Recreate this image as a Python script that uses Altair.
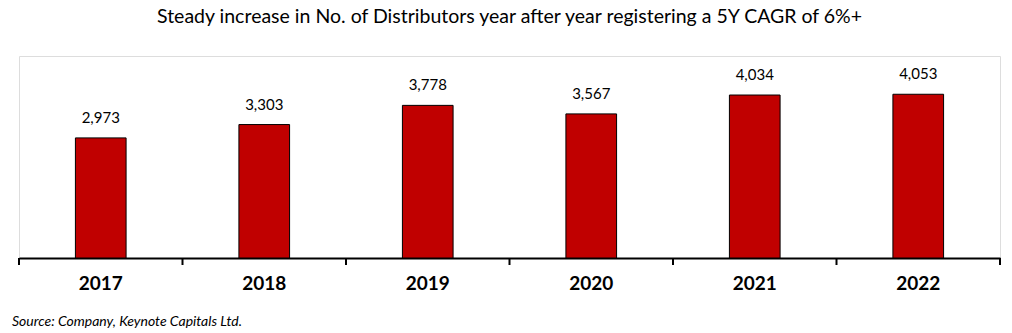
import altair as alt
import pandas as pd

years = ["2017", "2018", "2019", "2020", "2021", "2022"]
distributors = [2973, 3303, 3778, 3567, 4034, 4053]
labels = ["2,973", "3,303", "3,778", "3,567", "4,034", "4,053"]

df = pd.DataFrame({"year": years, "value": distributors, "label": labels})

W, H = 981, 202
FONT = "Lato"

x = alt.X("year:N", sort=years,
          scale=alt.Scale(paddingInner=0, paddingOuter=0),
          axis=alt.Axis(title=None, labelAngle=0, ticks=False, domain=True,
                        domainColor="black", domainWidth=2,
                        labelFont=FONT, labelFontSize=19, labelFontWeight="bold",
                        labelColor="black", labelPadding=16))
y = alt.Y("value:Q", scale=alt.Scale(domain=[0, 5000]), axis=None)

base = alt.Chart(df)

bars = base.mark_bar(width=alt.RelativeBandSize(0.31), color="#C00000",
                     stroke="black", strokeWidth=1).encode(x=x, y=y)

text = base.mark_text(baseline="bottom", dy=-12, font=FONT, fontSize=15,
                      color="black").encode(x=alt.X("year:N", sort=years), y=y,
                                             text="label:N")

ticks = base.mark_rule(color="black", strokeWidth=2).encode(
    x=alt.X("year:N", sort=years, bandPosition=0),
    y=alt.value(H), y2=alt.value(H + 7))

last_tick = alt.Chart(df.tail(1)).mark_rule(color="black", strokeWidth=2).encode(
    x=alt.X("year:N", sort=years, bandPosition=1),
    y=alt.value(H), y2=alt.value(H + 7))

source = alt.Chart(pd.DataFrame({"s": ["Source: Company, Keynote Capitals Ltd."]})).mark_text(
    align="left", baseline="middle", font=FONT, fontSize=14, fontStyle="italic",
    color="black").encode(x=alt.value(-7), y=alt.value(H + 64), text="s:N")

chart = alt.layer(bars, text, ticks, last_tick, source).properties(
    width=W, height=H,
    title=alt.TitleParams(
        "Steady increase in No. of Distributors year after year registering a 5Y CAGR of 6%+",
        font=FONT, fontSize=19.5, fontWeight="normal", color="black",
        anchor="middle", offset=29),
    autosize=alt.AutoSizeParams(type="none"),
    padding={"left": 19, "top": 56, "right": 12, "bottom": 75},
).configure_view(stroke=None).configure(background="white")

chart.save("out.html", embed_options={"renderer": "svg", "actions": False})
